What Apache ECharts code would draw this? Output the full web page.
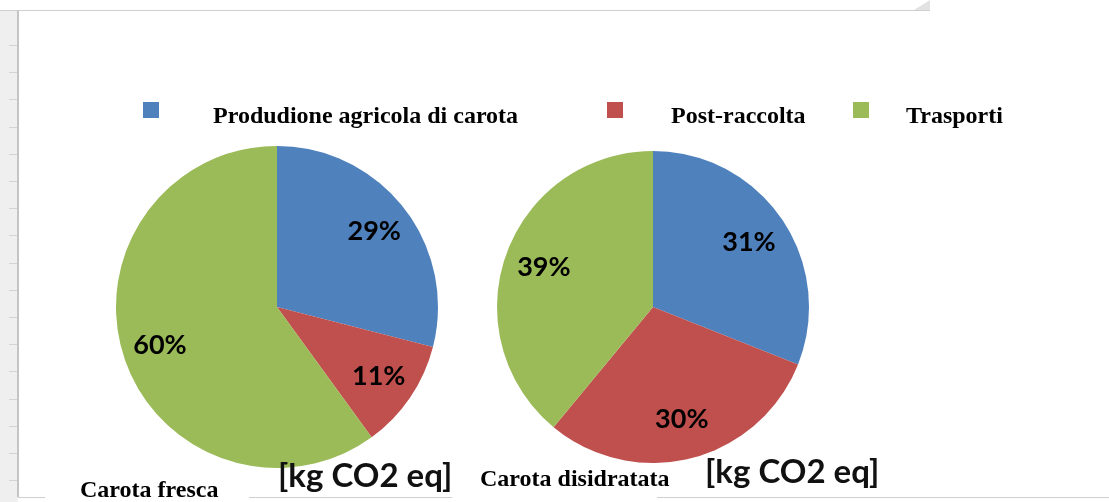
<!DOCTYPE html>
<html>
<head>
<meta charset="utf-8">
<script src="https://cdn.jsdelivr.net/npm/echarts@6/dist/echarts.min.js"></script>
<style>
html,body{margin:0;padding:0;background:#fff}
#main{width:1109px;height:502px}
</style>
</head>
<body>
<div id="main"></div>
<script>
const categories = ['Produdione agricola di carota', 'Post-raccolta', 'Trasporti'];
const fresca = [29, 11, 60];
const disidratata = [31, 30, 39];
const pieTitles = ['Carota fresca', 'Carota disidratata'];
const unit = '[kg CO2 eq]';
const colors = ['#4F81BD', '#C0504D', '#9BBB59'];

const myChart = echarts.init(document.getElementById('main'));

function toData(values){
    return values.map((v,i)=>({name:categories[i],value:v}));
}

// pie + a transparent twin that only carries the labels further out
function pie(values,center,r,labelR){
    return [
        {
            type:'pie',
            center:center,
            radius:r,
            silent:true,
            label:{show:false},
            labelLine:{show:false},
            itemStyle:{borderWidth:0},
            data:toData(values)
        },
        {
            type:'pie',
            center:center,
            radius:labelR,
            silent:true,
            itemStyle:{color:'transparent'},
            label:{
                show:true,
                position:'inside',
                formatter:'{d}%',
                fontFamily:'Lato',
                fontWeight:'bold',
                fontSize:27,
                color:'#000'
            },
            labelLine:{show:false},
            data:toData(values)
        }
    ];
}

const serifFont = {fontFamily:'Liberation Serif',fontWeight:'bold',fontSize:24,color:'#000'};
// square sits at the top of a taller box so the text ends up a bit lower
const legendIcon = 'path://M0,0h16v16h-16z M0,29L16,29';
function legendItem(name,left,padLeft){
    return {
        data:[name],
        left:left,
        top:102,
        padding:0,
        icon:legendIcon,
        itemWidth:16,
        itemHeight:29,
        selectedMode:false,
        textStyle:Object.assign({padding:[0,0,0,padLeft]},serifFont)
    };
}

const unitFont = {fontFamily:'Lato',fontWeight:'bold',fontSize:33,color:'#111'};

// spreadsheet frame around the chart
const frame = [
    {type:'rect',shape:{x:0,y:10,width:18,height:492},style:{fill:'#efefef'},silent:true},
    {type:'line',shape:{x1:18,y1:10,x2:18,y2:497},style:{stroke:'#c4c4c4',lineWidth:2},silent:true},
    {type:'line',shape:{x1:0,y1:10.5,x2:930,y2:10.5},style:{stroke:'#cfcfcf',lineWidth:1},silent:true},
    {type:'line',shape:{x1:18,y1:497.5,x2:45,y2:497.5},style:{stroke:'#cfcfcf',lineWidth:1},silent:true},
    {type:'line',shape:{x1:249,y1:497.5,x2:452,y2:497.5},style:{stroke:'#cfcfcf',lineWidth:1},silent:true},
    {type:'line',shape:{x1:657,y1:497.5,x2:1109,y2:497.5},style:{stroke:'#cfcfcf',lineWidth:1},silent:true},
    {type:'polygon',shape:{points:[[930,0],[930,10],[914,10]]},style:{fill:'#e2e2e2'},silent:true}
];
for(let y=45;y<497;y+=27.2){
    frame.push({type:'line',shape:{x1:9,y1:Math.round(y)+0.5,x2:17,y2:Math.round(y)+0.5},style:{stroke:'#d4d4d4',lineWidth:1},silent:true});
}

myChart.setOption({
    animation:false,
    color:colors,
    title:[
        {text:pieTitles[0],left:80,top:479,padding:0,textStyle:serifFont},
        {text:pieTitles[1],left:480,top:468,padding:0,textStyle:serifFont},
        {text:unit,left:278,top:460,padding:0,textStyle:unitFont},
        {text:unit,left:705,top:456,padding:0,textStyle:unitFont}
    ],
    legend:[
        legendItem(categories[0],143,49),
        legendItem(categories[1],607,43),
        legendItem(categories[2],853,32)
    ],
    graphic:frame,
    series:[
        ...pie(fresca,[277,307],161,240),
        ...pie(disidratata,[653,307],156,226)
    ]
});
</script>
</body>
</html>
